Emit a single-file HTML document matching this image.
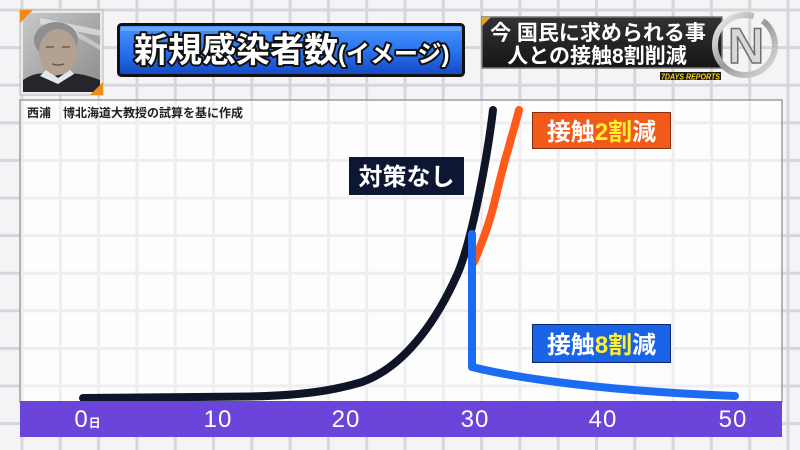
<!DOCTYPE html>
<html><head><meta charset="utf-8"><style>
html,body{margin:0;padding:0;width:800px;height:450px;overflow:hidden;background:#f3f3f5}
svg{display:block}
text{font-family:"Liberation Sans","Noto Sans CJK JP",sans-serif}
</style></head><body>
<svg width="800" height="450" viewBox="0 0 800 450" xmlns="http://www.w3.org/2000/svg">
<defs>
<pattern id="og" patternUnits="userSpaceOnUse" x="20.5" y="8.5" width="38.3" height="37.6">
<rect width="38.3" height="37.6" fill="#f4f4f6"/>
<rect x="0" y="0" width="3" height="37.6" fill="#d7d7db"/>
<rect x="0" y="0" width="38.3" height="3" fill="#d7d7db"/>
</pattern>
<pattern id="ig" patternUnits="userSpaceOnUse" x="20.5" y="8.5" width="38.3" height="37.6">
<rect width="38.3" height="37.6" fill="#fdfdfe"/>
<rect x="0" y="0" width="3" height="37.6" fill="#eeeef2"/>
<rect x="0" y="0" width="38.3" height="3" fill="#eeeef2"/>
</pattern>
<linearGradient id="tb" x1="0" y1="0" x2="0" y2="1">
<stop offset="0" stop-color="#4a96ff"/><stop offset="0.5" stop-color="#2a74f0"/><stop offset="1" stop-color="#1448c4"/>
</linearGradient>
<linearGradient id="db" x1="0" y1="0" x2="0" y2="1">
<stop offset="0" stop-color="#333"/><stop offset="1" stop-color="#161616"/>
</linearGradient>
<linearGradient id="ph" x1="0" y1="0" x2="1" y2="1">
<stop offset="0" stop-color="#c8c8c8"/><stop offset="1" stop-color="#8c8c8c"/>
</linearGradient>
<linearGradient id="sil" x1="0" y1="0" x2="1" y2="1">
<stop offset="0" stop-color="#f4f4f4"/><stop offset="0.5" stop-color="#9a9a9a"/><stop offset="1" stop-color="#e0e0e0"/>
</linearGradient>
</defs>
<rect width="800" height="450" fill="url(#og)"/>

<!-- photo -->
<rect x="20" y="10" width="83" height="85" fill="#e9e9e9" stroke="#b8b8b8" stroke-width="1"/>
<rect x="23" y="13" width="77" height="79" fill="url(#ph)"/>
<path d="M40,18 L100,30 L100,36 L40,24Z" fill="#e6e6e6" opacity="0.7"/>
<path d="M60,22 L100,45 L100,50 L60,27Z" fill="#dedede" opacity="0.6"/>
<path d="M23,92 L23,80 C35,72 45,72 55,76 C66,72 80,72 100,80 L100,92Z" fill="#25262c"/>
<path d="M40,76 L58,84 L74,74 L70,70 L58,78 L46,70Z" fill="#e4e6ea"/>
<ellipse cx="56" cy="40" rx="22" ry="18" fill="#8f8f8f"/>
<ellipse cx="58" cy="52" rx="19" ry="23" fill="#b3a191"/>
<path d="M46,47 h8 M62,47 h8" stroke="#6b5c52" stroke-width="1.5"/>
<path d="M52,64 q6,2 12,0" stroke="#6b5c52" stroke-width="1.5" fill="none"/>
<path d="M20,10 L33,10 L20,23Z" fill="#f08a1a"/>
<path d="M103,95 L90,95 L103,82Z" fill="#f08a1a"/>

<!-- title -->
<rect x="118.5" y="24.5" width="345" height="51" rx="3" fill="url(#tb)" stroke="#111" stroke-width="3"/>
<rect x="121" y="27" width="340" height="4" fill="#7fb6ff" opacity="0.6"/>
<text x="134" y="62" font-size="34" font-weight="bold" fill="#fff" stroke="#111" stroke-width="4" paint-order="stroke" stroke-linejoin="round">新規感染者数<tspan font-size="24">(イメージ)</tspan></text>

<!-- right dark box -->
<path d="M482,17 L722,17 L722,68 L482,68Z" fill="url(#db)" stroke="#777" stroke-width="1.5"/>
<path d="M482,17 L491,17 L482,26Z" fill="#f0a020"/>
<text x="598" y="40" font-size="21" font-weight="bold" fill="#fff" text-anchor="middle">今 国民に求められる事</text>
<text x="597" y="63" font-size="21" font-weight="bold" fill="#fff" text-anchor="middle">人との接触8割削減</text>
<rect x="660" y="72" width="61" height="8" fill="#1b1b1b"/>
<text x="661" y="79.5" font-size="8" font-weight="bold" font-style="italic" fill="#f2d21c" textLength="59" lengthAdjust="spacingAndGlyphs">7DAYS REPORTS</text>
<circle cx="745" cy="45" r="30" fill="none" stroke="url(#sil)" stroke-width="6" stroke-dasharray="150 10 28 10"/>
<text x="746" y="63" font-size="50" font-weight="bold" fill="#d8d8d8" stroke="#6e6e6e" stroke-width="1.5" text-anchor="middle" font-family="Liberation Sans">N</text>

<!-- panel -->
<rect x="20" y="100" width="762" height="302" fill="url(#ig)" stroke="#9d9da2" stroke-width="1.5"/>
<text x="27" y="117" font-size="12" font-weight="bold" fill="#222">西浦　博北海道大教授の試算を基に作成</text>

<!-- curves -->
<path d="M83,398 L250,396.5 C300,395.5 332,391 362,382 C387,373 406,355 421,336 C436,317 448,295 457,275 C466,255 475,215 480,190 C486,160 490,135 493,110" fill="none" stroke="#0f1526" stroke-width="8" stroke-linecap="round" stroke-linejoin="round"/>
<path d="M474,262 C482,243 490,222 495,200 C500,180 504,162 508,150 C512,135 516,122 519,110" fill="none" stroke="#ff5a1a" stroke-width="8" stroke-linecap="round"/>
<path d="M472,234 L472,367 C500,374 580,390 735,396" fill="none" stroke="#1b6cf2" stroke-width="8" stroke-linecap="round" stroke-linejoin="round"/>

<!-- labels -->
<rect x="349" y="157" width="115" height="38" fill="#0d1733"/>
<text x="406.5" y="185" font-size="24" font-weight="bold" fill="#fff" text-anchor="middle">対策なし</text>
<rect x="532.5" y="112.5" width="138" height="36" fill="#f25a1c" stroke="#8a2e10" stroke-width="1"/>
<text x="601.5" y="140" font-size="24" font-weight="bold" fill="#fff" text-anchor="middle">接触<tspan fill="#fff22a">2割</tspan>減</text>
<rect x="532.5" y="324.5" width="138" height="38" fill="#1a62e6" stroke="#0a2a70" stroke-width="1"/>
<text x="601.5" y="353" font-size="24" font-weight="bold" fill="#fff" text-anchor="middle">接触<tspan fill="#fff22a">8割</tspan>減</text>

<!-- axis band -->
<rect x="20" y="401" width="762" height="36" fill="#6b44da"/>
<g font-size="24" fill="#fff" text-anchor="middle" letter-spacing="1">
<text x="88" y="427"><tspan>0</tspan><tspan font-size="12" font-weight="bold">日</tspan></text>
<text x="218" y="427">10</text>
<text x="346" y="427">20</text>
<text x="475" y="427">30</text>
<text x="603" y="427">40</text>
<text x="733" y="427">50</text>
</g>
</svg>
</body></html>
